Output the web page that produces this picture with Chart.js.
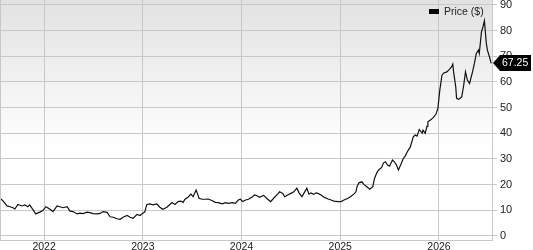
<!DOCTYPE html>
<html>
<head>
<meta charset="utf-8">
<script src="https://cdn.jsdelivr.net/npm/chart.js@4/dist/chart.umd.min.js"></script>
<style>
html,body{margin:0;padding:0;background:#fff;}
canvas{display:block;}
</style>
</head>
<body>
<canvas id="c" width="533" height="250"></canvas>
<script>
const dates = [
"2021-07-22","2021-08-02","2021-08-17","2021-08-28","2021-09-08","2021-09-15","2021-09-26","2021-10-11","2021-10-22","2021-11-02",
"2021-11-09","2021-11-20","2021-12-01","2021-12-16","2021-12-27","2022-01-08","2022-01-23","2022-02-03","2022-02-18","2022-03-01",
"2022-03-12","2022-03-27","2022-04-07","2022-04-18","2022-05-03","2022-05-14","2022-05-25","2022-06-09","2022-06-20","2022-07-01",
"2022-07-16","2022-07-27","2022-08-07","2022-08-22","2022-09-02","2022-09-13","2022-09-28","2022-10-09","2022-10-20","2022-11-04",
"2022-11-15","2022-11-26","2022-12-11","2022-12-22","2023-01-01","2023-01-08","2023-01-16","2023-01-27","2023-02-07","2023-02-22",
"2023-03-05","2023-03-16","2023-03-31","2023-04-19","2023-04-30","2023-05-11","2023-05-22","2023-05-30","2023-06-06","2023-06-17",
"2023-06-28","2023-07-06","2023-07-10","2023-07-17","2023-07-21","2023-07-28","2023-08-08","2023-08-19","2023-08-31","2023-09-15",
"2023-09-26","2023-10-07","2023-10-22","2023-11-02","2023-11-13","2023-11-28","2023-12-09","2023-12-20","2023-12-28","2024-01-05",
"2024-01-16","2024-01-27","2024-02-11","2024-02-18","2024-02-29","2024-03-08","2024-03-12","2024-03-23","2024-04-07","2024-04-18",
"2024-04-29","2024-05-14","2024-05-21","2024-06-02","2024-06-09","2024-06-20","2024-07-02","2024-07-13","2024-07-24","2024-08-01",
"2024-08-12","2024-08-19","2024-08-30","2024-09-07","2024-09-14","2024-09-25","2024-10-03","2024-10-10","2024-10-22","2024-11-02",
"2024-11-17","2024-11-28","2024-12-09","2024-12-24","2025-01-04","2025-01-15","2025-01-30","2025-02-10","2025-02-21","2025-02-28",
"2025-03-04","2025-03-11","2025-03-22","2025-03-29","2025-04-09","2025-04-20","2025-05-01","2025-05-08","2025-05-16","2025-05-23",
"2025-06-03","2025-06-10","2025-06-17","2025-06-25","2025-07-02","2025-07-13","2025-07-20","2025-07-28","2025-08-04","2025-08-15",
"2025-08-22","2025-08-29","2025-09-06","2025-09-17","2025-09-28","2025-10-05","2025-10-12","2025-10-20","2025-10-31","2025-11-03",
"2025-11-11","2025-11-18","2025-11-21","2025-11-29","2025-12-10","2025-12-21","2025-12-28","2026-01-04","2026-01-12","2026-01-19",
"2026-01-30","2026-02-06","2026-02-17","2026-02-21","2026-02-24","2026-03-04","2026-03-07","2026-03-15","2026-03-26","2026-04-02",
"2026-04-09","2026-04-16","2026-04-24","2026-05-05","2026-05-12","2026-05-19","2026-05-27","2026-05-30","2026-06-07","2026-06-10",
"2026-06-18","2026-06-25","2026-06-29","2026-07-06","2026-07-13"
];
const prices = [
14.7,13.7,11.7,11.4,11.0,10.5,12.3,11.7,12.1,11.4,
12.1,10.4,8.6,9.3,9.9,11.4,10.4,9.5,11.7,11.4,
11.0,11.4,9.7,9.5,8.6,8.9,8.7,9.3,9.1,8.7,
8.6,8.8,9.5,9.2,7.5,7.3,6.7,6.5,7.3,8.0,
7.3,6.9,8.4,8.0,8.9,9.3,12.3,12.5,12.1,12.5,
11.2,10.4,11.2,13.0,12.3,13.4,13.6,13.1,14.3,15.1,
16.3,15.3,16.3,17.9,16.8,14.7,14.3,14.3,14.4,13.7,
13.1,13.0,12.5,13.0,12.7,13.0,12.7,14.0,14.3,13.4,
14.0,14.3,15.3,16.0,15.6,15.1,15.3,15.8,14.3,13.4,
14.7,16.3,17.2,16.6,15.3,16.0,16.6,17.2,18.6,16.8,
15.3,16.6,18.6,16.3,16.8,16.2,16.8,16.6,16.0,15.1,
14.4,14.0,13.6,13.4,13.4,14.0,14.7,15.5,16.4,17.2,
19.2,20.7,21.1,20.1,19.2,18.2,19.2,22.5,24.6,25.7,
26.7,28.5,28.9,27.6,27.2,29.6,28.9,27.6,25.7,28.3,
30.2,31.1,32.8,34.7,38.6,39.3,38.9,41.5,40.0,41.2,
40.0,42.8,44.5,45.1,46.0,47.5,49.7,56.8,62.6,63.5,
63.9,64.6,65.9,66.9,63.9,58.1,53.6,53.2,54.2,58.4,
63.9,60.7,59.4,63.9,67.2,71.1,72.4,71.1,79.5,80.4,
83.8,75.0,72.4,70.0,67.25
];
const seriesName = "Price ($)";
const yearTicks = [2022, 2023, 2024, 2025, 2026];
const priceTicks = [0, 10, 20, 30, 40, 50, 60, 70, 80, 90];
const xStart = "2021-07-22";
const xEnd = "2026-07-16";
const yMin = -1.56, yMax = 91.9;

function toDec(s) {
  const [y, m, d] = s.split('-').map(Number);
  const a = Date.UTC(y, 0, 1), b = Date.UTC(y + 1, 0, 1);
  return y + (Date.UTC(y, m - 1, d) - a) / (b - a);
}
const points = dates.map((d, i) => ({ x: toDec(d), y: prices[i] }));
const FONT = "'Liberation Sans', Arial, Helvetica, sans-serif";
const GRID = '#c8c8c8';

const deco = {
  id: 'deco',
  beforeDraw(chart) {
    const { ctx, chartArea: a } = chart;
    const g = ctx.createLinearGradient(0, a.top, 0, a.top + 150);
    g.addColorStop(0, '#e2e2e2');
    g.addColorStop(1, '#ffffff');
    ctx.save();
    ctx.fillStyle = '#fff';
    ctx.fillRect(0, 0, chart.width, chart.height);
    ctx.fillStyle = g;
    ctx.fillRect(a.left, a.top, a.right - a.left, a.bottom - a.top);
    ctx.restore();
  },
  afterDraw(chart) {
    const { ctx, chartArea: a } = chart;
    ctx.save();
    // left border
    ctx.strokeStyle = GRID;
    ctx.lineWidth = 1;
    ctx.beginPath();
    ctx.moveTo(a.left + 0.5, a.top);
    ctx.lineTo(a.left + 0.5, a.bottom);
    ctx.stroke();
    // legend
    ctx.fillStyle = '#000';
    ctx.fillRect(429, 9, 10, 5);
    ctx.fillStyle = '#222';
    ctx.font = '10.5px ' + FONT;
    ctx.textBaseline = 'middle';
    ctx.textAlign = 'left';
    ctx.fillText(seriesName, 444, 12);
    // last value flag
    const meta = chart.getDatasetMeta(0);
    const p = meta.data[meta.data.length - 1];
    const y = Math.round(p.y);
    const tip = a.right + 1;
    ctx.fillStyle = '#000';
    ctx.beginPath();
    ctx.moveTo(tip, y);
    ctx.lineTo(tip + 7, y - 8);
    ctx.lineTo(531, y - 8);
    ctx.lineTo(531, y + 8);
    ctx.lineTo(tip + 7, y + 8);
    ctx.closePath();
    ctx.fill();
    ctx.fillStyle = '#fff';
    ctx.font = '10.5px ' + FONT;
    ctx.fillText(prices[prices.length - 1].toFixed(2), tip + 9, y + 0.5);
    ctx.restore();
  }
};

new Chart(document.getElementById('c'), {
  type: 'line',
  data: {
    datasets: [{
      label: seriesName,
      data: points,
      borderColor: '#111',
      borderWidth: 1.2,
      pointRadius: 0,
      tension: 0,
      fill: false
    }]
  },
  options: {
    responsive: false,
    animation: false,
    devicePixelRatio: 1,
    layout: { padding: 0 },
    plugins: { legend: { display: false }, tooltip: { enabled: false } },
    scales: {
      x: {
        type: 'linear',
        position: 'bottom',
        min: toDec(xStart),
        max: toDec(xEnd),
        afterBuildTicks: s => { s.ticks = yearTicks.map(v => ({ value: v })); },
        afterFit: s => { s.height = 10; s.paddingLeft = 0; s.paddingRight = 0; },
        ticks: { callback: v => String(v), font: { family: FONT, size: 10.5 }, color: '#222', padding: 1, maxRotation: 0, autoSkip: false },
        grid: { color: GRID, lineWidth: 1, drawTicks: false, tickLength: 0 },
        border: { color: GRID, width: 1 }
      },
      y: {
        type: 'linear',
        position: 'right',
        min: yMin,
        max: yMax,
        afterBuildTicks: s => { s.ticks = priceTicks.map(v => ({ value: v })); },
        afterFit: s => { s.width = 41; s.paddingTop = 0; s.paddingBottom = 0; },
        ticks: { font: { family: FONT, size: 11 }, color: '#222', padding: 3 },
        grid: { color: GRID, lineWidth: 1, tickLength: 5 },
        border: { color: GRID, width: 1 }
      }
    }
  },
  plugins: [deco]
});
</script>
</body>
</html>
